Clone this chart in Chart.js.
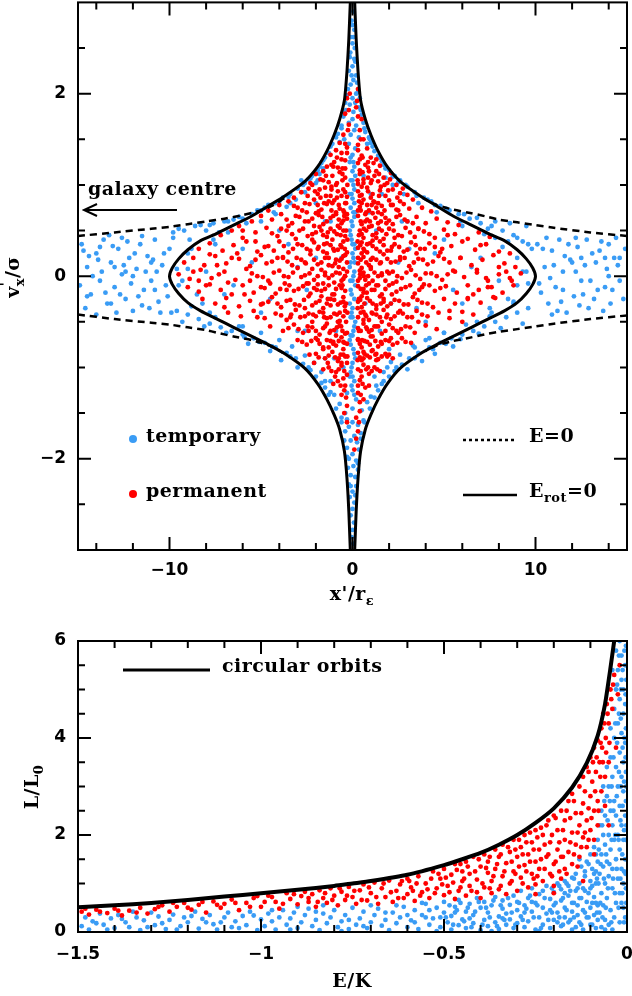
<!DOCTYPE html>
<html><head><meta charset="utf-8">
<script src="https://cdn.jsdelivr.net/npm/chart.js@4.4.1/dist/chart.umd.min.js"></script>
<style>html,body{margin:0;padding:0;background:#fff;}canvas{position:absolute;left:0;display:block;}</style>
</head><body>
<canvas id="top" width="632" height="610" style="top:0px"></canvas>
<canvas id="bot" width="632" height="386" style="top:610px"></canvas>
<script>
// ================= TOP PANEL DATA (x'/r_eps , v_x'/sigma) =================
const topXTicks = [-10, 0, 10];
const topXMinor = [-14,-12,-8,-6,-4,-2,2,4,6,8,12,14];
const topYTicks = [-2, 0, 2];
const topYMinor = [-2.5,-1.5,-1,-0.5,0.5,1,1.5,2.5];

const temporaryTop = [
[0.05,2.9],[-0.05,2.8],[0.1,2.7],[-0.1,2.62],[0,2.55],[0.12,2.5],[-0.12,2.45],[0,2.75],[0.05,2.62],
[-0.15,2.4],[0.15,2.35],[0,2.3],[-0.2,2.25],[0.2,2.2],[0.05,2.15],[-0.1,2.1],[0.25,2.12],[-0.25,2.05],[0.1,2.38],[-0.05,2.2],
[0.3,2.02],[-0.3,1.98],[0,1.95],[0.15,1.9],[-0.15,1.88],[0.35,1.85],[-0.35,1.82],[0.05,1.8],[-0.4,1.9],[0.4,1.95],[0.2,2.0],
[-0.5,1.75],[0.5,1.77],[0,1.72],[-0.2,1.68],[0.2,1.65],[0.6,1.68],[-0.6,1.62],[0.1,1.6],[-0.1,1.55],[0.7,1.58],[-0.8,1.56],[0.35,1.52],[-0.45,1.5],[0.9,1.52],
[-1.1,1.45],[1.0,1.46],[-0.2,1.45],[0.15,1.4],[1.2,1.37],[-1.3,1.35],[0,1.33],[-0.15,1.25],[0.1,1.2],[1.6,1.26],[-1.7,1.24],[1.8,1.18],[-1.9,1.16],[-1.5,1.3],[1.4,1.32],[0.8,1.45],[-0.7,1.47],
[0,1.15],[-0.1,1.05],[0.1,0.95],[0,0.85],[-0.1,0.75],[0.1,0.65],[0,0.55],[-0.1,0.45],[0.1,0.35],[0,0.25],[-0.1,0.15],[0.1,0.05],[0,-0.05],[-0.1,-0.15],[0.1,-0.25],[0,-0.35],[-0.1,-0.45],[0.1,-0.55],[0,-0.65],[-0.1,-0.75],[0.1,-0.85],[0,-0.95],[-0.1,-1.05],[0.1,-1.15],[0,-1.25],
[0.15,1.1],[-0.15,0.9],[0.15,0.7],[-0.15,0.5],[0.15,0.3],[-0.15,0.1],[0.15,-0.1],[-0.15,-0.3],[0.15,-0.5],[-0.15,-0.7],[0.15,-0.9],[-0.15,-1.1],[0.05,1.0],[-0.05,0.6],[0.05,0.2],[-0.05,-0.2],[0.05,-0.6],[-0.05,-1.0],
[-1.5,-1.22],[1.4,-1.25],[-1.0,-1.3],[1.0,-1.32],[-0.3,-1.28],[0.2,-1.35],[-0.7,-1.4],[0.8,-1.38],[0,-1.45],[-0.4,-1.5],[0.5,-1.47],[1.3,-1.2],[-1.2,-1.27],
[-0.6,-1.55],[0.6,-1.58],[0,-1.6],[-0.2,-1.65],[0.3,-1.63],[-0.4,-1.7],[0.45,-1.72],[0.1,-1.75],[-0.1,-1.8],[0.25,-1.82],[-0.3,-1.57],
[-0.3,-1.88],[0.35,-1.9],[0,-1.95],[-0.2,-2.0],[0.2,-2.02],[0.05,-2.08],[-0.25,-2.1],[0.3,-2.12],[-0.1,-2.18],[0.15,-2.2],
[-0.2,-2.28],[0.2,-2.3],[0,-2.36],[-0.15,-2.42],[0.1,-2.48],[0,-2.55],[-0.1,-2.62],[0.08,-2.7],[0,-2.78],[-0.05,-2.86],[0.05,-2.93],[0.15,-2.4],[-0.1,-2.3],
[-9.8,0.48],[-9.2,0.5],[-8.6,0.55],[-8.0,0.5],[-7.6,0.58],[-7.0,0.6],[-6.5,0.62],[-6.0,0.63],[-5.5,0.68],[-5.0,0.72],[-4.6,0.78],[-4.2,0.8],[-3.8,0.86],[-3.4,0.9],[-3.0,0.96],[-2.7,1.0],[-2.4,1.06],[-2.2,1.1],[-8.9,0.4],[-7.3,0.48],[-5.8,0.58],[-4.3,0.7],[-3.6,0.76],[-3.1,0.84],[-2.6,0.92],[-2.0,1.02],[-1.8,1.12],[-1.6,1.18],
[9.8,0.3],[9.3,0.38],[8.8,0.45],[8.2,0.5],[7.6,0.55],[7.0,0.58],[6.4,0.63],[5.8,0.68],[5.3,0.72],[4.8,0.77],[4.3,0.82],[3.9,0.86],[3.4,0.92],[3.0,0.98],[2.6,1.05],[2.3,1.1],[2.0,1.16],[8.5,0.38],[7.2,0.46],[5.9,0.6],[4.6,0.7],[3.6,0.8],[2.8,0.9],[2.2,1.0],[1.8,1.08],[7.4,0.52],[9.0,0.42],[9.6,0.35],
[-9.6,-0.38],[-9.0,-0.42],[-8.4,-0.47],[-7.8,-0.52],[-7.2,-0.56],[-6.6,-0.6],[-6.0,-0.64],[-5.4,-0.68],[-4.8,-0.73],[-4.2,-0.78],[-3.6,-0.84],[-3.1,-0.9],[-2.7,-0.96],[-2.3,-1.03],[-2.0,-1.1],[-8.8,-0.33],[-7.5,-0.45],[-6.2,-0.55],[-5.0,-0.62],[-4.0,-0.7],[-3.3,-0.77],[-2.6,-0.87],[-2.1,-0.95],[-1.7,-1.05],[-1.5,-1.15],[-5.7,-0.74],[-4.5,-0.82],[-3.9,-0.92],[-3.0,-1.0],
[9.6,-0.35],[9.0,-0.4],[8.4,-0.45],[7.8,-0.5],[7.2,-0.55],[6.6,-0.6],[6.0,-0.64],[5.4,-0.68],[4.8,-0.73],[4.2,-0.78],[3.6,-0.84],[3.1,-0.9],[2.7,-0.97],[2.3,-1.04],[2.0,-1.1],[8.8,-0.3],[7.5,-0.44],[6.2,-0.53],[5.0,-0.62],[4.0,-0.7],[3.3,-0.76],[2.6,-0.86],[2.1,-0.94],[1.7,-1.05],[1.6,-1.18],[4.5,-0.85],[3.8,-0.93],[3.0,-1.02],[5.5,-0.77],
[-8.0,0.05],[-7.0,-0.2],[-6.0,0.3],[-5.0,-0.4],[-4.0,0.5],[-3.0,-0.6],[-2.0,0.8],[-1.0,-0.9],[1.0,0.9],[2.0,-0.8],[3.0,0.6],[4.0,-0.5],[5.0,0.4],[6.0,-0.3],[7.0,0.2],[8.0,-0.05],[-9.0,0.25],[-8.5,-0.2],[9.0,0.2],[8.5,-0.25],[-7.5,0.35],[7.5,-0.35],[-6.5,-0.1],[6.5,0.1],[-5.5,0.15],[5.5,-0.15],[-4.5,-0.25],[4.5,0.25],[-3.5,0.35],[3.5,-0.35],[-2.5,-0.15],[2.5,0.15],[-1.5,0.6],[1.5,-0.6],[-9.5,-0.1],[9.5,0.05],[-2.8,1.05],[2.9,1.0],[-1.2,-1.15],[1.2,-1.1],
[-0.6,0.2],[0.7,-0.3],[-1.2,0.6],[1.3,0.5],[-0.9,-0.6],[0.9,0.7],[-2.0,0.2],[2.1,-0.3],[-1.5,-0.9],[1.6,0.9],[-3.0,0.1],[3.1,0.3],[-2.6,-0.6],[2.7,0.6],[-0.5,-1.0],[0.6,1.1],[-1.9,1.05],[1.9,-1.0],
[-14.8,0.35],[-14.5,0.1],[-14.3,-0.2],[-14.0,0.25],[-13.8,-0.05],[-13.6,0.4],[-13.4,-0.3],[-13.2,0.15],[-13.0,-0.12],[-12.8,0.3],[-12.6,0.02],[-12.4,-0.25],[-12.2,0.2],[-12.0,-0.38],[-11.8,0.08],[-11.6,0.35],[-11.4,-0.15],[-11.2,0.22],[-11.0,-0.05],[-10.8,0.4],[-10.6,-0.28],[-10.4,0.12],[-10.2,-0.1],[-10.0,0.3],[-14.9,-0.1],[-14.6,-0.35],[-14.2,0.0],[-13.9,0.18],[-13.5,-0.18],[-13.1,0.33],[-12.9,-0.4],[-12.5,0.12],[-12.1,-0.08],[-11.9,0.25],[-11.5,-0.32],[-11.3,0.05],[-10.9,0.18],[-10.5,-0.4],[-10.3,0.25],[-14.4,0.22],[-13.7,0.05],[-13.3,0.45],[-12.7,-0.2],[-12.3,0.38],[-11.7,-0.22],[-11.1,-0.35],[-10.7,0.05],[-14.7,0.28],[-13.0,0.1],[-12.0,0.0],[-11.0,0.15],[-10.1,-0.22],[-9.8,0.42],[-9.9,-0.4],
[14.9,0.3],[14.6,-0.05],[14.3,0.2],[14.1,-0.3],[13.9,0.08],[13.6,0.38],[13.4,-0.15],[13.1,0.25],[12.9,-0.35],[12.7,0.12],[12.5,-0.05],[12.3,0.32],[12.1,-0.22],[11.9,0.18],[11.7,-0.4],[11.5,0.05],[11.3,0.4],[11.1,-0.12],[10.9,0.28],[10.7,-0.3],[10.5,0.1],[10.3,-0.18],[10.1,0.35],[14.8,-0.25],[14.4,0.42],[14.0,0.0],[13.7,-0.38],[13.3,0.15],[12.8,0.4],[12.6,-0.2],[12.2,0.05],[11.8,0.35],[11.4,-0.28],[11.0,0.12],[10.6,0.42],[10.2,-0.08],[14.2,-0.15],[13.5,0.28],[12.4,-0.32],[11.6,0.22],[10.8,-0.02],[13.8,0.2],[12.0,0.15],[11.2,-0.38],[10.4,0.3],[13.0,-0.05],[14.5,0.12]
];
const temporaryTopExtra = [
[0.05,1.25],[-0.05,0.9],[0.05,0.7],[-0.05,0.4],[0.05,0.0],[-0.05,-0.4],[0.05,-0.8],[-0.05,-1.2],[0.1,-1.3],[-0.1,1.3],[0,1.05],[0,-1.1],[0,0.35],[0,-0.45],[0.1,0.8],[-0.1,-0.65],[0.12,0.15],[-0.12,-0.05],
[-1.2,1.42],[1.1,1.42],[-1.6,1.27],[1.5,1.3],[-1.8,1.2],[1.7,1.22],[-2.3,1.07],[2.2,1.09],[-2.6,1.02],[2.5,1.03],[-0.9,1.52],[0.95,1.5],[-0.6,1.65],[0.65,1.62],[-0.45,1.8],[0.45,1.82],
[-1.3,-1.3],[1.2,-1.33],[-1.7,-1.17],[1.7,-1.15],[-0.9,-1.45],[0.95,-1.45],[-0.6,-1.6],[0.65,-1.6],[-0.45,-1.8],[0.45,-1.78],[-2.4,-1.0],[2.4,-1.0],[-0.3,-1.98],[0.3,-2.05],
[-9.5,0.52],[-8.3,0.56],[-7.8,0.56],[-6.8,0.6],[-6.2,0.65],[-5.2,0.72],[-4.8,0.75],[-4.0,0.82],[-3.5,0.87],
[9.5,0.55],[8.6,0.58],[7.8,0.6],[6.8,0.64],[6.1,0.68],[5.1,0.74],[4.5,0.78],[4.1,0.84],[3.5,0.88],
[-9.3,-0.5],[-8.1,-0.55],[-6.9,-0.62],[-5.9,-0.67],[-5.1,-0.72],[-4.4,-0.77],[-3.4,-0.88],[9.3,-0.52],[8.1,-0.57],[6.9,-0.63],[5.9,-0.69],[5.1,-0.74],[4.4,-0.8],[3.4,-0.9],
[-9.6,0.08],[-9.3,-0.05],[-9.0,0.08],[-8.8,0.3],[-8.2,-0.3],[-7.6,0.4],[-7.8,-0.4],[9.6,-0.08],[9.3,0.05],[9.0,-0.1],[8.8,-0.28],[8.2,0.32],[7.6,-0.4],[7.8,0.42],[-6.8,0.48],[6.8,-0.5],[-6.0,-0.55],[6.0,0.55],[-5.0,0.6],[5.0,-0.62],[-4.2,0.68],[4.2,-0.68],[-3.4,0.8],[3.4,-0.78],
[-14.0,-0.42],[-13.2,-0.3],[-12.6,0.42],[-11.5,0.44],[-10.8,-0.15],[-12.4,0.05],[-13.8,0.32],[-14.5,-0.22],[14.0,0.35],[13.2,-0.25],[12.5,0.2],[11.5,-0.15],[10.9,-0.42],[12.2,0.42],[13.8,-0.12],[14.6,0.2]
];

const permanentTop = [
[0.3,2.05],[-0.3,1.95],[0.2,1.85],[-0.4,1.78],[0.5,1.72],[-0.2,1.66],[0.4,1.6],[-0.5,1.55],[0.6,1.5],[-0.7,1.46],[0.3,1.44],[-0.3,1.41],[0.8,1.4],[-0.9,1.38],
[-1.2,1.33],[-0.6,1.35],[0.5,1.32],[1.0,1.3],[1.3,1.28],[-1.0,1.25],[-0.4,1.27],[0.3,1.24],[0.7,1.22],[-1.4,1.2],[1.5,1.21],[-0.8,1.19],
[-2.0,1.12],[-1.6,1.15],[-1.1,1.1],[-0.7,1.14],[-0.4,1.08],[0.4,1.12],[0.6,1.06],[0.9,1.15],[1.2,1.1],[1.7,1.08],[2.1,1.13],[-1.3,1.03],[-0.9,1.0],[0.3,1.01],[1.0,1.02],[1.4,1.04],[-2.3,1.02],[2.4,1.0],
[-2.8,0.92],[-2.4,0.96],[-1.9,0.9],[-1.5,0.97],[-1.2,0.88],[-0.8,0.93],[-0.5,0.95],[-0.3,0.87],[0.3,0.93],[0.5,0.89],[0.8,0.97],[1.1,0.9],[1.5,0.94],[1.8,0.88],[2.2,0.95],[2.6,0.91],[3.0,0.89],[-3.2,0.86],
[-4.0,0.78],[-3.5,0.82],[-3.0,0.75],[-2.6,0.8],[-2.1,0.84],[-1.7,0.73],[-1.4,0.79],[-1.0,0.83],[-0.7,0.74],[-0.4,0.8],[0.4,0.76],[0.6,0.84],[0.9,0.72],[1.2,0.81],[1.6,0.77],[2.0,0.83],[2.4,0.73],[2.8,0.79],[3.3,0.84],[3.8,0.75],[4.3,0.71],[-4.6,0.72],
[-5.5,0.6],[-5.0,0.66],[-4.4,0.62],[-3.9,0.68],[-3.3,0.58],[-2.9,0.65],[-2.4,0.6],[-2.0,0.69],[-1.6,0.57],[-1.2,0.64],[-0.9,0.68],[-0.6,0.58],[-0.3,0.63],[0.3,0.66],[0.5,0.57],[0.8,0.62],[1.1,0.69],[1.4,0.58],[1.8,0.64],[2.2,0.57],[2.6,0.67],[3.0,0.6],[3.5,0.65],[4.0,0.58],[4.6,0.63],[5.2,0.59],[5.8,0.56],[-6.2,0.55],
[-7.2,0.45],[-6.6,0.5],[-6.0,0.42],[-5.3,0.48],[-4.7,0.53],[-4.1,0.44],[-3.6,0.5],[-3.1,0.41],[-2.7,0.52],[-2.2,0.46],[-1.8,0.54],[-1.4,0.43],[-1.0,0.49],[-0.7,0.53],[-0.4,0.44],[0.4,0.5],[0.6,0.42],[0.9,0.54],[1.3,0.47],[1.7,0.41],[2.0,0.52],[2.5,0.45],[2.9,0.53],[3.4,0.43],[3.9,0.49],[4.5,0.42],[5.0,0.51],[5.6,0.46],[6.3,0.41],[6.9,0.48],[7.5,0.43],
[-8.4,0.3],[-7.8,0.36],[-7.1,0.28],[-6.5,0.34],[-5.8,0.38],[-5.2,0.27],[-4.6,0.33],[-4.0,0.38],[-3.5,0.26],[-3.0,0.35],[-2.5,0.3],[-2.1,0.37],[-1.6,0.27],[-1.2,0.34],[-0.8,0.29],[-0.5,0.38],[-0.3,0.26],[0.3,0.31],[0.5,0.37],[0.8,0.26],[1.1,0.33],[1.5,0.38],[1.9,0.28],[2.3,0.35],[2.8,0.27],[3.2,0.37],[3.7,0.3],[4.2,0.36],[4.8,0.26],[5.4,0.33],[6.0,0.38],[6.7,0.29],[7.3,0.35],[8.0,0.27],[8.6,0.25],
[-9.2,0.15],[-8.7,0.2],[-8.1,0.12],[-7.5,0.22],[-6.9,0.14],[-6.2,0.19],[-5.6,0.11],[-5.0,0.23],[-4.4,0.16],[-3.8,0.21],[-3.3,0.12],[-2.8,0.18],[-2.3,0.24],[-1.9,0.13],[-1.5,0.2],[-1.1,0.11],[-0.7,0.17],[-0.4,0.23],[0.3,0.14],[0.6,0.21],[0.9,0.12],[1.3,0.18],[1.7,0.24],[2.1,0.15],[2.6,0.21],[3.1,0.11],[3.6,0.19],[4.1,0.13],[4.7,0.22],[5.3,0.15],[5.9,0.2],[6.5,0.12],[7.1,0.18],[7.7,0.23],[8.3,0.14],[8.9,0.1],
[-9.5,0.02],[-8.9,-0.03],[-8.3,0.07],[-7.7,-0.02],[-7.0,0.05],[-6.4,-0.04],[-5.8,0.08],[-5.2,0.0],[-4.6,-0.05],[-4.0,0.06],[-3.5,-0.01],[-3.0,0.09],[-2.6,0.01],[-2.1,-0.04],[-1.7,0.07],[-1.3,-0.02],[-0.9,0.04],[-0.5,-0.03],[0.4,0.06],[0.7,-0.04],[1.0,0.08],[1.4,0.0],[1.8,-0.05],[2.2,0.05],[2.7,-0.02],[3.2,0.07],[3.7,-0.03],[4.3,0.03],[4.9,-0.04],[5.5,0.06],[6.1,-0.01],[6.8,0.04],[7.4,-0.05],[8.0,0.02],[8.6,-0.02],[9.2,0.03],
[-9.0,-0.12],[-8.4,-0.17],[-7.8,-0.09],[-7.2,-0.15],[-6.6,-0.2],[-6.0,-0.1],[-5.4,-0.18],[-4.8,-0.13],[-4.2,-0.19],[-3.7,-0.08],[-3.2,-0.16],[-2.7,-0.11],[-2.3,-0.19],[-1.9,-0.09],[-1.5,-0.14],[-1.1,-0.2],[-0.7,-0.1],[-0.4,-0.16],[0.3,-0.11],[0.6,-0.18],[0.9,-0.08],[1.2,-0.15],[1.6,-0.2],[2.0,-0.1],[2.4,-0.17],[2.9,-0.12],[3.4,-0.19],[3.9,-0.09],[4.5,-0.16],[5.1,-0.11],[5.7,-0.18],[6.3,-0.1],[6.9,-0.15],[7.6,-0.12],[8.2,-0.18],[8.8,-0.1],
[-8.2,-0.25],[-7.5,-0.3],[-6.9,-0.24],[-6.2,-0.33],[-5.6,-0.27],[-5.0,-0.31],[-4.4,-0.23],[-3.9,-0.34],[-3.4,-0.26],[-2.9,-0.32],[-2.4,-0.22],[-2.0,-0.29],[-1.6,-0.35],[-1.2,-0.25],[-0.8,-0.31],[-0.5,-0.23],[0.3,-0.28],[0.5,-0.34],[0.8,-0.24],[1.1,-0.3],[1.5,-0.22],[1.9,-0.33],[2.3,-0.26],[2.8,-0.31],[3.3,-0.23],[3.8,-0.29],[4.4,-0.34],[5.0,-0.25],[5.6,-0.3],[6.3,-0.24],[7.0,-0.29],[7.7,-0.23],
[-6.8,-0.4],[-6.1,-0.44],[-5.4,-0.38],[-4.8,-0.46],[-4.2,-0.41],[-3.6,-0.48],[-3.1,-0.37],[-2.6,-0.44],[-2.2,-0.5],[-1.8,-0.39],[-1.4,-0.46],[-1.0,-0.41],[-0.7,-0.49],[-0.4,-0.38],[0.3,-0.45],[0.6,-0.39],[0.9,-0.48],[1.3,-0.42],[1.7,-0.37],[2.1,-0.47],[2.5,-0.4],[3.0,-0.45],[3.5,-0.38],[4.1,-0.44],[4.7,-0.4],[5.3,-0.46],[6.0,-0.39],[6.6,-0.42],
[-4.5,-0.55],[-3.8,-0.6],[-3.2,-0.53],[-2.7,-0.62],[-2.2,-0.56],[-1.8,-0.64],[-1.4,-0.52],[-1.0,-0.59],[-0.7,-0.54],[-0.4,-0.63],[0.3,-0.57],[0.6,-0.52],[0.9,-0.61],[1.2,-0.55],[1.6,-0.63],[2.0,-0.53],[2.4,-0.6],[2.9,-0.55],[3.4,-0.62],[4.0,-0.54],[4.6,-0.58],
[-3.0,-0.7],[-2.5,-0.75],[-2.0,-0.68],[-1.6,-0.78],[-1.2,-0.71],[-0.9,-0.76],[-0.6,-0.67],[-0.3,-0.74],[0.3,-0.69],[0.5,-0.78],[0.8,-0.72],[1.1,-0.66],[1.4,-0.77],[1.8,-0.7],[2.2,-0.75],[2.7,-0.68],[3.2,-0.73],
[-2.0,-0.85],[-1.5,-0.9],[-1.1,-0.83],[-0.8,-0.93],[-0.5,-0.86],[-0.3,-0.95],[0.3,-0.84],[0.5,-0.92],[0.8,-0.87],[1.1,-0.81],[1.4,-0.91],[1.8,-0.85],[2.2,-0.9],
[-1.3,-1.0],[-0.9,-1.05],[-0.6,-0.98],[-0.3,-1.08],[0.3,-1.02],[0.6,-0.97],[0.9,-1.07],[1.2,-1.0],[1.5,-1.04],
[-0.8,-1.15],[-0.4,-1.2],[0.4,-1.14],[0.7,-1.22],[-0.6,-1.3],[0.3,-1.28],[0.6,-1.35],[-0.3,-1.42],[0.4,-1.48],[0.2,-1.55],[-0.3,-1.6],[0.3,-1.7],[0.2,-1.78],[0.1,-1.9],
[-1.8,0.95],[-1.3,0.82],[-0.9,0.7],[-0.5,0.61],[-1.7,0.5],[-1.1,0.4],[-0.6,0.32],[-1.4,0.25],[-0.9,0.18],[-0.5,0.08],[-1.5,0.01],[-1.0,-0.07],[-0.6,-0.13],[-1.7,-0.22],[-1.2,-0.32],[-0.7,-0.4],[-1.5,-0.55],[-0.9,-0.65],[-0.5,-0.8],[-1.3,-0.78],
[0.5,0.98],[1.0,0.86],[1.4,0.7],[0.7,0.6],[1.6,0.5],[1.1,0.39],[0.6,0.3],[1.5,0.27],[1.0,0.18],[0.5,0.09],[1.6,0.03],[1.1,-0.05],[0.6,-0.14],[1.7,-0.25],[1.3,-0.36],[0.7,-0.42],[1.6,-0.5],[1.0,-0.66],[0.6,-0.83],[1.3,-0.85],
[-2.5,0.7],[-2.2,0.4],[-2.6,0.15],[-2.4,-0.08],[-2.6,-0.35],[-2.4,-0.6],[2.5,0.72],[2.3,0.42],[2.6,0.18],[2.4,-0.06],[2.6,-0.38],[2.5,-0.62],
[-3.5,0.55],[-3.8,0.2],[-3.6,-0.15],[-3.4,-0.45],[3.6,0.52],[3.5,0.25],[3.8,-0.12],[3.6,-0.5],
[-0.4,1.18],[0.4,1.16],[-0.5,-1.12],[0.5,-1.1],[-0.35,0.5],[0.35,0.45],[-0.35,-0.5],[0.35,-0.6],[-0.4,0.0],[0.4,-0.02],[-0.35,0.8],[0.35,0.82],[-0.35,-0.3],[0.35,-0.25],[-0.3,0.15],[0.3,0.2],
[-2.2,1.0],[-1.9,0.78],[-2.1,0.55],[-1.9,0.3],[-2.2,0.08],[-1.95,-0.15],[-2.15,-0.42],[-1.9,-0.7],[-2.1,-0.95],
[-1.6,1.05],[-1.45,0.88],[-1.65,0.65],[-1.35,0.48],[-1.55,0.35],[-1.3,0.12],[-1.6,-0.08],[-1.35,-0.25],[-1.55,-0.45],[-1.25,-0.62],[-1.6,-0.8],[-1.35,-0.95],
[-1.05,1.2],[-0.85,1.02],[-1.1,0.8],[-0.8,0.55],[-1.05,0.3],[-0.75,0.1],[-1.0,-0.2],[-0.8,-0.5],[-1.05,-0.72],[-0.75,-0.9],[-0.95,-1.1],
[-0.6,1.28],[-0.55,1.05],[-0.6,0.88],[-0.5,0.72],[-0.65,0.45],[-0.5,0.22],[-0.6,-0.05],[-0.5,-0.28],[-0.62,-0.55],[-0.5,-0.72],[-0.6,-0.95],[-0.45,-1.25],
[-0.3,1.35],[-0.28,1.0],[-0.3,0.68],[-0.28,0.4],[-0.3,0.05],[-0.28,-0.4],[-0.3,-0.62],[-0.28,-0.88],
[0.3,1.38],[0.28,1.05],[0.3,0.72],[0.28,0.38],[0.3,-0.05],[0.28,-0.35],[0.3,-0.7],[0.28,-0.92],[0.3,-1.2],
[0.55,1.3],[0.6,1.02],[0.5,0.8],[0.62,0.52],[0.5,0.25],[0.62,0.0],[0.5,-0.22],[0.6,-0.48],[0.52,-0.7],[0.6,-0.9],[0.45,-1.3],
[0.85,1.25],[1.05,1.05],[0.8,0.78],[1.05,0.55],[0.8,0.35],[1.0,0.1],[0.78,-0.18],[1.05,-0.4],[0.8,-0.58],[1.05,-0.82],[0.85,-1.0],
[1.3,1.15],[1.55,0.98],[1.3,0.75],[1.55,0.6],[1.3,0.42],[1.55,0.15],[1.3,-0.1],[1.55,-0.3],[1.3,-0.55],[1.55,-0.72],[1.3,-0.92],
[1.9,1.02],[2.1,0.78],[1.85,0.58],[2.15,0.32],[1.9,0.05],[2.15,-0.2],[1.85,-0.45],[2.1,-0.68],[1.9,-0.88]
];
const permanentTopExtra = [
[-1.15,1.22],[-0.85,1.3],[-0.55,1.18],[0.4,1.28],[0.85,1.19],[1.15,1.24],
[-1.75,1.06],[-1.45,1.1],[-1.15,0.98],[-0.55,1.12],[0.55,1.14],[0.85,1.08],[1.45,1.12],[1.75,1.0],[2.05,1.06],
[-2.45,0.88],[-2.05,0.93],[-1.75,0.86],[-1.15,0.95],[-0.85,0.86],[-0.4,0.92],[0.4,0.88],[0.85,0.93],[1.15,0.82],[1.45,0.88],[1.95,0.94],[2.45,0.86],[2.75,0.96],
[-3.2,0.77],[-2.75,0.72],[-2.35,0.79],[-1.85,0.71],[-1.55,0.8],[-1.15,0.72],[-0.75,0.78],[-0.45,0.7],[0.45,0.72],[0.75,0.7],[1.05,0.78],[1.4,0.8],[1.75,0.72],[2.2,0.78],[2.6,0.82],[3.1,0.74],
[-3.6,0.62],[-3.1,0.66],[-2.6,0.6],[-2.2,0.63],[-1.85,0.67],[-1.4,0.6],[-1.05,0.66],[-0.75,0.62],[-0.45,0.66],[0.45,0.6],[0.7,0.68],[0.95,0.6],[1.25,0.64],[1.6,0.68],[2.0,0.61],[2.4,0.65],[2.85,0.62],[3.3,0.58],
[-4.4,0.47],[-3.9,0.52],[-3.3,0.46],[-2.9,0.5],[-2.45,0.44],[-2.0,0.48],[-1.6,0.45],[-1.2,0.52],[-0.85,0.46],[-0.5,0.5],[0.5,0.46],[0.75,0.5],[1.1,0.45],[1.45,0.52],[1.85,0.46],[2.25,0.5],[2.7,0.44],[3.15,0.48],[3.6,0.52],[4.2,0.46],
[-4.8,0.32],[-4.3,0.28],[-3.75,0.33],[-3.25,0.3],[-2.75,0.34],[-2.3,0.28],[-1.85,0.32],[-1.4,0.36],[-1.0,0.28],[-0.65,0.34],[-0.42,0.3],[0.42,0.34],[0.65,0.28],[0.95,0.36],[1.3,0.3],[1.7,0.34],[2.1,0.28],[2.55,0.32],[3.0,0.29],[3.45,0.34],[3.95,0.3],[4.5,0.32],
[-5.3,0.18],[-4.7,0.14],[-4.1,0.2],[-3.55,0.16],[-3.05,0.2],[-2.55,0.14],[-2.1,0.18],[-1.7,0.15],[-1.3,0.2],[-0.95,0.14],[-0.6,0.19],[0.45,0.18],[0.75,0.15],[1.1,0.2],[1.5,0.14],[1.9,0.19],[2.35,0.16],[2.85,0.2],[3.35,0.15],[3.85,0.18],[4.4,0.16],[5.0,0.19],
[-5.5,0.03],[-4.9,-0.01],[-4.3,0.04],[-3.75,0.0],[-3.25,0.04],[-2.8,-0.01],[-2.35,0.03],[-1.9,0.0],[-1.5,0.04],[-1.1,0.01],[-0.7,0.03],[-0.42,0.0],[0.42,0.02],[0.6,0.04],[0.85,0.0],[1.2,0.04],[1.6,0.01],[2.0,0.03],[2.45,0.0],[2.95,0.04],[3.45,0.01],[4.0,0.03],[4.6,0.0],[5.2,0.02],
[-5.0,-0.12],[-4.5,-0.08],[-3.95,-0.14],[-3.45,-0.1],[-2.95,-0.14],[-2.5,-0.08],[-2.1,-0.13],[-1.7,-0.16],[-1.3,-0.1],[-0.9,-0.14],[-0.55,-0.1],[0.45,-0.14],[0.75,-0.1],[1.05,-0.15],[1.4,-0.1],[1.8,-0.14],[2.2,-0.08],[2.65,-0.14],[3.15,-0.1],[3.65,-0.15],[4.2,-0.1],[4.8,-0.13],
[-4.6,-0.28],[-4.1,-0.3],[-3.6,-0.27],[-3.15,-0.31],[-2.65,-0.26],[-2.2,-0.32],[-1.8,-0.27],[-1.4,-0.3],[-1.0,-0.26],[-0.65,-0.29],[-0.42,-0.33],[0.42,-0.26],[0.65,-0.3],[0.95,-0.27],[1.3,-0.32],[1.7,-0.28],[2.1,-0.3],[2.55,-0.27],[3.05,-0.31],[3.55,-0.26],[4.1,-0.3],
[-3.9,-0.43],[-3.35,-0.42],[-2.85,-0.45],[-2.4,-0.41],[-2.0,-0.44],[-1.6,-0.4],[-1.2,-0.45],[-0.85,-0.42],[-0.5,-0.44],[0.45,-0.4],[0.75,-0.44],[1.1,-0.41],[1.5,-0.45],[1.9,-0.42],[2.3,-0.44],[2.75,-0.41],[3.25,-0.45],[3.8,-0.42],
[-3.5,-0.57],[-2.95,-0.58],[-2.45,-0.55],[-2.0,-0.6],[-1.6,-0.57],[-1.2,-0.6],[-0.85,-0.56],[-0.55,-0.6],[0.45,-0.6],[0.75,-0.56],[1.05,-0.59],[1.4,-0.55],[1.8,-0.6],[2.2,-0.57],[2.65,-0.58],[3.15,-0.56],
[-2.75,-0.72],[-2.25,-0.71],[-1.8,-0.74],[-1.4,-0.7],[-1.05,-0.74],[-0.75,-0.71],[-0.45,-0.73],[0.4,-0.74],[0.65,-0.71],[0.95,-0.75],[1.25,-0.71],[1.6,-0.74],[2.0,-0.71],[2.45,-0.73],[2.9,-0.72],
[-2.35,-0.86],[-1.85,-0.89],[-1.3,-0.87],[-0.95,-0.89],[-0.65,-0.86],[-0.4,-0.88],[0.4,-0.89],[0.65,-0.85],[0.95,-0.89],[1.25,-0.86],[1.6,-0.88],[2.0,-0.86],
[-1.6,-1.02],[-1.15,-1.04],[-0.75,-1.02],[-0.45,-1.04],[0.45,-1.04],[0.75,-1.02],[1.05,-1.04],[1.35,-1.02],
[-1.05,-1.18],[-0.65,-1.2],[0.55,-1.18],[0.9,-1.2],[-0.35,-1.33],[0.4,-1.38],[-0.45,-1.5],[0.35,-1.6],
[-0.4,1.45],[0.45,1.5],[-0.25,1.6],[0.3,1.75],[-0.2,1.82],[0.25,1.92],[-0.15,2.0],
[-8.7,0.05],[-8.0,-0.1],[-7.4,0.12],[-6.8,-0.07],[-6.3,0.25],[-5.9,-0.2],[-5.3,0.38],[-4.9,-0.3],[-7.8,0.24],[-7.0,-0.34],[-6.0,0.5],[-5.2,-0.45],[-8.4,-0.05],[-7.3,0.02],[-6.6,0.2],[-5.6,-0.05],
[8.7,-0.05],[8.0,0.1],[7.4,-0.12],[6.8,0.07],[6.3,-0.25],[5.9,0.2],[5.3,-0.38],[4.9,0.3],[7.8,-0.24],[7.0,0.34],[6.0,-0.5],[5.2,0.45],[8.4,0.05],[7.3,-0.02],[6.6,-0.2],[5.6,0.05]
];

// E_rot = 0 (solid) boundary, left and right lobes
const eRotLeft = [[-0.12,3.0],[-0.2,2.6],[-0.3,2.25],[-0.44,1.93],[-0.7,1.72],[-1.0,1.55],[-1.4,1.37],[-1.9,1.2],[-2.6,1.04],[-3.7,0.88],[-4.6,0.77],[-5.5,0.66],[-6.5,0.56],[-7.4,0.47],[-8.3,0.39],[-9.0,0.29],[-9.5,0.19],[-9.85,0.09],[-10.0,0.0],[-9.85,-0.09],[-9.5,-0.19],[-9.0,-0.29],[-8.3,-0.38],[-7.4,-0.47],[-6.5,-0.56],[-5.5,-0.66],[-4.6,-0.75],[-3.7,-0.85],[-2.6,-1.01],[-1.9,-1.18],[-1.4,-1.35],[-1.0,-1.52],[-0.7,-1.68],[-0.44,-1.92],[-0.3,-2.22],[-0.2,-2.58],[-0.12,-3.0]];
const eRotRight = [[0.12,3.0],[0.2,2.6],[0.3,2.25],[0.44,1.93],[0.7,1.72],[1.0,1.55],[1.4,1.37],[1.9,1.2],[2.6,1.04],[3.7,0.88],[4.6,0.77],[5.5,0.66],[6.5,0.56],[7.4,0.47],[8.3,0.39],[9.0,0.29],[9.5,0.19],[9.85,0.09],[10.0,0.0],[9.85,-0.09],[9.5,-0.19],[9.0,-0.29],[8.3,-0.38],[7.4,-0.47],[6.5,-0.56],[5.5,-0.66],[4.6,-0.75],[3.7,-0.85],[2.6,-1.01],[1.9,-1.18],[1.4,-1.35],[1.0,-1.52],[0.7,-1.68],[0.44,-1.92],[0.3,-2.22],[0.2,-2.58],[0.12,-3.0]];
// E = 0 (dashed) curves
const eZeroUL = [[-15,0.44],[-13,0.48],[-11,0.52],[-10,0.54],[-9,0.57],[-8,0.6],[-7,0.63],[-6,0.67],[-5,0.72],[-4.3,0.78],[-3.7,0.86]];
const eZeroUR = [[15,0.44],[13,0.48],[11,0.53],[10,0.56],[9,0.59],[8,0.62],[7.4,0.65],[6.5,0.69],[5.5,0.73],[4.6,0.78],[3.9,0.85]];
const eZeroLL = [[-15,-0.42],[-13,-0.47],[-11,-0.51],[-10,-0.53],[-9,-0.56],[-8,-0.59],[-7.4,-0.62],[-6.5,-0.66],[-5.5,-0.7],[-5,-0.73],[-4.3,-0.78],[-3.8,-0.84]];
const eZeroLR = [[15,-0.43],[13,-0.47],[11,-0.52],[10,-0.55],[9,-0.58],[8,-0.61],[7.4,-0.63],[6.5,-0.67],[5.5,-0.71],[4.6,-0.76],[4.0,-0.82]];

// ================= BOTTOM PANEL DATA (E/K , L/L0) =================
const botXTicks = [-1.5, -1, -0.5, 0];
const botXMinor = [-1.4,-1.3,-1.2,-1.1,-0.9,-0.8,-0.7,-0.6,-0.4,-0.3,-0.2,-0.1];
const botYTicks = [0, 2, 4, 6];
const botYMinor = [0.5,1,1.5,2.5,3,3.5,4.5,5,5.5];

const circularOrbits = [[-1.5,0.51],[-1.4,0.55],[-1.3,0.6],[-1.2,0.66],[-1.1,0.73],[-1.0,0.8],[-0.9,0.87],[-0.8,0.95],[-0.75,1.0],[-0.7,1.05],[-0.6,1.18],[-0.5,1.38],[-0.45,1.5],[-0.4,1.63],[-0.35,1.8],[-0.3,2.0],[-0.25,2.25],[-0.2,2.55],[-0.15,2.98],[-0.11,3.48],[-0.08,4.05],[-0.06,4.7],[-0.046,5.4],[-0.035,6.0]];

const permanentBot = [
[-1.49,0.42],[-1.47,0.36],[-1.45,0.46],[-1.42,0.39],[-1.4,0.48],[-1.38,0.34],[-1.36,0.44],[-1.33,0.5],[-1.31,0.38],[-1.29,0.47],[-1.27,0.55],
[-1.25,0.42],[-1.23,0.52],[-1.21,0.6],[-1.19,0.46],[-1.17,0.56],[-1.15,0.4],[-1.13,0.63],[-1.11,0.5],[-1.1,0.58],[-1.08,0.67],
[-1.06,0.45],[-1.04,0.6],[-1.02,0.7],[-1.0,0.52],[-0.98,0.75],[-0.96,0.62],[-0.95,0.48],[-0.93,0.8],[-0.92,0.68],[-0.9,0.57],[-0.89,0.74],[-0.88,0.83],
[-0.87,0.62],[-0.86,0.78],[-0.85,0.52],[-0.84,0.86],[-0.83,0.7],[-0.82,0.6],[-0.81,0.9],[-0.8,0.75],[-0.79,0.55],[-0.78,0.83],[-0.77,0.66],[-0.76,0.93],[-0.75,0.72],[-0.74,0.58],[-0.73,0.86],
[-0.72,0.98],[-0.71,0.65],[-0.7,0.8],[-0.69,1.02],[-0.68,0.58],[-0.67,0.9],[-0.66,0.72],[-0.65,1.06],[-0.64,0.62],[-0.63,0.85],[-0.62,0.98],[-0.61,0.7],[-0.6,1.1],[-0.6,0.78],[-0.59,0.92],[-0.58,0.64],
[-0.57,1.15],[-0.56,0.82],[-0.55,1.0],[-0.54,0.7],[-0.53,1.25],[-0.52,0.9],[-0.51,1.1],[-0.5,0.76],[-0.5,1.3],[-0.49,0.95],[-0.48,1.18],[-0.47,0.68],[-0.47,1.4],[-0.46,0.85],[-0.45,1.05],[-0.45,1.25],
[-0.44,0.75],[-0.44,1.45],[-0.43,0.95],[-0.43,1.2],[-0.42,1.55],[-0.41,0.82],[-0.41,1.08],[-0.4,1.35],[-0.4,0.7],[-0.39,1.6],[-0.39,0.92],[-0.38,1.22],[-0.38,1.45],[-0.37,0.8],[-0.37,1.05],[-0.36,1.7],[-0.36,1.3],[-0.35,0.88],[-0.35,1.55],
[-0.34,1.15],[-0.34,1.8],[-0.33,0.78],[-0.33,1.42],[-0.32,1.0],[-0.32,1.65],[-0.31,1.25],[-0.31,1.9],[-0.3,0.85],[-0.3,1.55],[-0.29,1.12],[-0.29,1.75],[-0.28,1.38],[-0.28,2.0],[-0.27,0.92],[-0.27,1.6],[-0.26,1.2],[-0.26,1.85],[-0.25,1.45],[-0.25,2.1],[-0.25,0.98],
[-0.24,1.7],[-0.24,1.3],[-0.23,2.0],[-0.23,1.05],[-0.22,1.55],[-0.22,2.2],[-0.21,1.85],[-0.21,1.2],[-0.2,2.4],[-0.2,1.4],[-0.2,0.95],[-0.19,1.7],[-0.19,2.1],[-0.18,1.1],[-0.18,2.5],[-0.18,1.55],
[-0.17,1.9],[-0.17,2.3],[-0.17,1.3],[-0.16,2.7],[-0.16,1.65],[-0.15,2.05],[-0.15,2.85],[-0.15,1.4],[-0.14,2.45],[-0.14,1.8],[-0.13,3.0],[-0.13,2.2],[-0.13,1.55],[-0.12,2.65],[-0.12,1.95],[-0.12,3.2],
[-0.11,2.3],[-0.11,3.4],[-0.11,1.75],[-0.1,2.8],[-0.1,3.6],[-0.1,2.1],[-0.095,3.1],[-0.09,2.5],[-0.09,3.8],[-0.09,1.9],[-0.085,3.3],[-0.08,2.7],[-0.08,3.95],[-0.08,2.2],
[-0.075,3.5],[-0.07,4.2],[-0.07,2.9],[-0.068,3.8],[-0.065,4.5],[-0.06,3.2],[-0.058,4.0],[-0.055,4.7],[-0.05,3.5],[-0.05,4.3],[-0.045,5.0],[-0.04,4.6],[-0.035,5.3],[-0.03,3.8],[-0.025,4.9],[-0.02,5.5],
[-0.12,1.05],[-0.25,0.78],[-0.09,1.6],[-0.06,2.6],[-0.05,2.2],[-0.2,0.8]
];
const permanentBotExtra = [
[-0.595,1.05],[-0.585,0.85],[-0.575,1.0],[-0.565,0.75],[-0.545,0.88],[-0.535,1.1],[-0.525,0.8],[-0.515,1.2],[-0.505,0.98],[-0.495,1.12],[-0.485,0.82],[-0.475,1.02],[-0.465,1.28],[-0.455,0.92],[-0.455,1.4],
[-0.445,1.1],[-0.435,1.35],[-0.425,0.85],[-0.415,1.25],[-0.405,1.5],[-0.395,1.0],[-0.385,1.32],[-0.375,0.9],[-0.375,1.55],[-0.365,1.15],[-0.355,1.4],[-0.345,0.95],[-0.345,1.6],[-0.335,1.25],[-0.325,1.75],[-0.315,1.05],[-0.315,1.45],[-0.305,1.7],[-0.305,1.2],
[-0.295,1.35],[-0.295,1.9],[-0.285,1.0],[-0.285,1.6],[-0.275,1.25],[-0.275,1.85],[-0.265,1.45],[-0.265,2.05],[-0.255,1.1],[-0.255,1.7],[-0.245,1.95],[-0.245,1.15],[-0.235,1.5],[-0.235,2.15],[-0.225,1.8],[-0.225,1.3],[-0.215,1.6],[-0.215,2.3],[-0.205,2.0],[-0.205,1.15],[-0.195,1.45],[-0.195,2.35],[-0.185,1.85],[-0.185,1.25],
[-0.175,2.1],[-0.175,1.55],[-0.165,2.5],[-0.165,1.2],[-0.155,1.85],[-0.155,2.35],[-0.145,1.6],[-0.145,2.7],[-0.135,2.05],[-0.135,1.35],[-0.125,2.45],[-0.125,1.75],[-0.115,2.9],[-0.115,2.05],[-0.105,2.55],[-0.105,3.3],[-0.105,1.9],
[-0.097,2.35],[-0.093,3.5],[-0.087,2.9],[-0.083,3.6],[-0.078,2.5],[-0.073,3.2],[-0.072,3.9],[-0.066,3.5],[-0.062,4.3],[-0.057,3.7],[-0.053,4.5],[-0.048,3.9],[-0.043,4.8],[-0.038,5.1],
[-0.99,0.62],[-0.97,0.72],[-0.94,0.58],[-0.91,0.78],[-0.87,0.7],[-0.845,0.62],[-0.825,0.8],[-0.805,0.66],[-0.785,0.9],[-0.765,0.75],[-0.745,0.85],[-0.725,0.66],[-0.705,0.92],[-0.685,0.72],[-0.665,1.0],[-0.645,0.82],[-0.625,0.7],[-0.615,1.05],
[-1.48,0.48],[-1.44,0.42],[-1.39,0.44],[-1.34,0.4],[-1.28,0.52],[-1.24,0.6],[-1.2,0.5],[-1.16,0.62],[-1.12,0.56],[-1.07,0.6],[-1.03,0.52],[-1.01,0.74]
];

const temporaryBot = [
[-1.49,0.12],[-1.48,0.3],[-1.47,0.05],[-1.46,0.22],[-1.44,0.38],[-1.43,0.15],[-1.41,0.28],[-1.4,0.08],[-1.39,0.35],[-1.37,0.2],[-1.36,0.1],[-1.34,0.3],[-1.33,0.04],[-1.32,0.24],[-1.3,0.4],[-1.29,0.14],[-1.28,0.32],[-1.26,0.06],[-1.25,0.25],[-1.24,0.36],[-1.22,0.12],[-1.21,0.3],[-1.2,0.2],[-1.18,0.42],[-1.17,0.07],[-1.16,0.27],[-1.14,0.35],[-1.13,0.16],[-1.12,0.05],[-1.1,0.3],[-1.09,0.4],[-1.08,0.1],[-1.07,0.22],[-1.05,0.33],[-1.04,0.14],[-1.03,0.42],[-1.01,0.04],[-1.0,0.26],[-1.45,0.18],[-1.35,0.42],[-1.27,0.18],[-1.19,0.33],[-1.11,0.2],[-1.02,0.34],
[-0.99,0.12],[-0.98,0.38],[-0.97,0.22],[-0.96,0.05],[-0.95,0.3],[-0.94,0.45],[-0.93,0.15],[-0.92,0.28],[-0.91,0.4],[-0.9,0.08],[-0.89,0.2],[-0.88,0.35],[-0.87,0.48],[-0.86,0.12],[-0.85,0.25],[-0.84,0.04],[-0.83,0.38],[-0.82,0.18],[-0.81,0.3],[-0.8,0.45],[-0.79,0.1],[-0.78,0.22],[-0.77,0.35],[-0.76,0.06],[-0.75,0.5],[-0.74,0.15],[-0.73,0.28],[-0.72,0.42],[-0.71,0.08],[-0.7,0.2],[-0.69,0.35],[-0.68,0.48],[-0.67,0.13],[-0.66,0.25],[-0.65,0.04],[-0.64,0.4],[-0.63,0.18],[-0.62,0.3],[-0.61,0.52],[-0.6,0.1],[-0.9,0.52],[-0.83,0.55],[-0.76,0.25],[-0.7,0.55],[-0.63,0.55],
[-0.59,0.24],[-0.58,0.45],[-0.57,0.06],[-0.56,0.35],[-0.55,0.58],[-0.54,0.15],[-0.53,0.28],[-0.52,0.5],[-0.51,0.1],[-0.5,0.4],[-0.5,0.62],[-0.49,0.2],[-0.48,0.05],[-0.48,0.33],[-0.47,0.52],[-0.46,0.14],[-0.46,0.66],[-0.45,0.26],[-0.44,0.42],[-0.44,0.08],[-0.43,0.58],[-0.42,0.18],[-0.42,0.35],[-0.41,0.7],[-0.4,0.04],[-0.4,0.5],[-0.39,0.25],[-0.39,0.62],[-0.38,0.12],[-0.38,0.4],[-0.37,0.55],[-0.36,0.2],[-0.36,0.72],[-0.35,0.32],[-0.35,0.06],[-0.34,0.48],[-0.34,0.65],[-0.33,0.15],[-0.33,0.38],[-0.32,0.56],[-0.32,0.26],[-0.31,0.75],[-0.31,0.08],[-0.3,0.45],[-0.3,0.62],[-0.3,0.18],[-0.55,0.3],[-0.52,0.02],[-0.47,0.4],[-0.43,0.28],[-0.37,0.02],[-0.34,0.28],[-0.56,0.6],
[-0.29,0.32],[-0.29,0.85],[-0.28,0.1],[-0.28,0.55],[-0.27,0.7],[-0.27,0.22],[-0.26,0.42],[-0.26,0.9],[-0.25,0.05],[-0.25,0.6],[-0.24,0.3],[-0.24,0.78],[-0.23,0.15],[-0.23,0.5],[-0.22,0.95],[-0.22,0.38],[-0.21,0.68],[-0.21,0.08],[-0.2,0.25],[-0.2,0.55],[-0.2,0.82],[-0.19,0.4],[-0.19,1.0],[-0.18,0.12],[-0.18,0.65],[-0.18,0.88],[-0.17,0.3],[-0.17,0.5],[-0.17,1.05],[-0.16,0.2],[-0.16,0.75],[-0.16,0.95],[-0.15,0.42],[-0.15,0.6],[-0.15,0.05],[-0.15,1.12],[-0.28,0.4],[-0.26,0.62],[-0.24,0.02],[-0.23,0.85],[-0.21,0.45],[-0.19,0.2],[-0.17,0.8],
[-0.145,0.3],[-0.14,0.85],[-0.14,1.2],[-0.14,0.1],[-0.135,0.55],[-0.13,1.0],[-0.13,0.7],[-0.13,0.2],[-0.125,1.35],[-0.12,0.45],[-0.12,0.9],[-0.12,0.05],[-0.115,1.15],[-0.11,0.62],[-0.11,1.45],[-0.11,0.3],[-0.105,0.8],[-0.1,1.05],[-0.1,1.6],[-0.1,0.15],[-0.1,0.5],[-0.095,1.3],[-0.09,0.72],[-0.09,0.35],[-0.09,1.75],[-0.085,1.0],[-0.085,0.08],[-0.08,0.55],[-0.08,1.45],[-0.08,1.9],[-0.08,0.25],[-0.13,1.5],[-0.115,0.4],[-0.1,0.9],[-0.095,0.6],[-0.085,1.25],
[-0.075,0.4],[-0.075,1.2],[-0.075,2.2],[-0.07,0.1],[-0.07,0.8],[-0.07,1.6],[-0.07,2.5],[-0.065,0.55],[-0.065,1.35],[-0.065,2.0],[-0.065,3.0],[-0.06,0.25],[-0.06,1.0],[-0.06,1.8],[-0.06,2.4],[-0.055,0.7],[-0.055,1.45],[-0.055,2.8],[-0.055,3.4],[-0.05,0.15],[-0.05,1.15],[-0.05,2.0],[-0.05,3.0],[-0.045,0.45],[-0.045,1.7],[-0.045,2.5],[-0.045,3.6],[-0.045,4.2],[-0.04,0.9],[-0.04,1.3],[-0.04,2.2],[-0.04,3.2],[-0.04,5.4],[-0.035,0.3],[-0.035,1.9],[-0.035,2.7],[-0.035,4.0],[-0.035,4.6],[-0.03,0.6],[-0.03,1.5],[-0.03,2.4],[-0.03,3.4],[-0.03,5.0],[-0.03,5.8],[-0.025,1.1],[-0.025,2.0],[-0.025,3.0],[-0.025,4.3],[-0.025,5.4],[-0.02,0.2],[-0.02,0.8],[-0.02,1.7],[-0.02,2.6],[-0.02,3.7],[-0.02,4.8],[-0.02,6.0],[-0.015,1.3],[-0.015,2.2],[-0.015,3.2],[-0.015,4.1],[-0.015,5.2],[-0.015,5.7],[-0.01,0.5],[-0.01,1.0],[-0.01,1.9],[-0.01,2.9],[-0.01,3.5],[-0.01,4.5],[-0.01,5.0],[-0.005,0.3],[-0.005,1.5],[-0.005,2.4],[-0.005,3.9],[-0.005,4.7],[-0.005,5.5],[-0.003,0.9],[-0.003,2.7],[-0.003,3.3],[-0.003,4.2],[-0.003,5.9],[-0.06,0.05],[-0.04,0.05],[-0.015,0.6],[-0.008,1.25],[-0.008,2.1]
];
const temporaryBotExtra = [
[-0.495,0.3],[-0.485,0.55],[-0.475,0.15],[-0.465,0.45],[-0.455,0.6],[-0.445,0.22],[-0.435,0.5],[-0.425,0.1],[-0.415,0.42],[-0.405,0.62],[-0.395,0.15],[-0.385,0.5],[-0.375,0.3],[-0.365,0.65],[-0.355,0.12],[-0.345,0.55],[-0.335,0.25],[-0.325,0.7],[-0.315,0.4],[-0.305,0.15],[-0.295,0.6],[-0.285,0.25],[-0.275,0.48],[-0.265,0.75],[-0.255,0.3],[-0.245,0.55],[-0.235,0.08],[-0.225,0.7],[-0.215,0.25],[-0.205,0.9],[-0.205,0.4],
[-0.195,0.6],[-0.185,0.3],[-0.185,0.95],[-0.175,0.7],[-0.175,0.15],[-0.165,0.45],[-0.165,1.0],[-0.155,0.25],[-0.155,0.85],[-0.145,0.6],[-0.145,1.1],[-0.135,0.35],[-0.135,0.9],[-0.125,0.15],[-0.125,0.7],[-0.115,1.25],[-0.115,0.85],[-0.105,0.3],[-0.105,1.4],[-0.095,0.95],[-0.095,0.15],[-0.09,1.2],[-0.085,0.6],[-0.085,1.6],[-0.082,0.4],[-0.082,1.1],
[-0.078,1.0],[-0.077,1.7],[-0.073,0.6],[-0.072,1.4],[-0.068,2.2],[-0.067,0.3],[-0.063,1.1],[-0.062,2.7],[-0.058,0.5],[-0.057,1.6],[-0.053,2.3],[-0.052,0.9],[-0.048,1.4],[-0.047,2.7],[-0.043,0.2],[-0.042,1.9],[-0.042,3.0],[-0.038,1.1],[-0.037,2.5],[-0.037,3.6],[-0.033,0.8],[-0.032,2.0],[-0.032,4.3],[-0.028,1.3],[-0.028,2.8],[-0.027,3.9],[-0.027,5.1],[-0.023,0.5],[-0.023,1.9],[-0.022,3.3],[-0.022,4.5],[-0.022,5.7],[-0.018,1.1],[-0.018,2.3],[-0.017,3.0],[-0.017,4.4],[-0.017,5.0],[-0.013,0.8],[-0.013,1.6],[-0.012,2.6],[-0.012,3.8],[-0.012,5.4],[-0.008,0.2],[-0.008,3.1],[-0.007,4.0],[-0.007,5.8],[-0.004,1.2],[-0.004,1.9],[-0.004,3.6],[-0.004,4.9],[-0.002,0.6],[-0.002,2.2],[-0.002,3.0],[-0.002,5.2],
[-1.42,0.05],[-1.38,0.27],[-1.31,0.1],[-1.23,0.05],[-1.15,0.2],[-1.06,0.08],[-0.97,0.45],[-0.92,0.05],[-0.85,0.42],[-0.78,0.02],[-0.72,0.12],[-0.66,0.4],[-0.6,0.35],[-0.58,0.2],[-0.54,0.45],[-0.51,0.3]
];

// ================= RENDERING =================
const BLUE = 'rgb(58,156,245)';
const RED = 'rgb(255,0,0)';
const TICKFONT = {family:'"DejaVu Sans"', size:17, weight:'bold'};
const pts = a => a.map(p => ({x:p[0], y:p[1]}));
const fmt = v => (v < 0 ? '\u2212' + String(Math.abs(v)) : String(v));

function rich(ctx, parts, x, y, align){
  const F = s => 'bold ' + s + 'px "DejaVu Serif"';
  const size = p => (p[1] ? 13 : 19);
  try { ctx.letterSpacing = '0.5px'; } catch (e) {}
  let w = 0, pend = 0;
  parts.forEach(p => { ctx.font = F(size(p)); const m = ctx.measureText(p[0]).width; if (p[2]) { pend = m; } else { w += Math.max(m, pend); pend = 0; } });
  let cx = align === 'center' ? x - w / 2 : x; pend = 0;
  parts.forEach(p => {
    ctx.font = F(size(p));
    const dy = p[1] === 1 ? 5 : (p[1] === 2 ? -9 : 0);
    ctx.fillText(p[0], cx, y + dy);
    const m = ctx.measureText(p[0]).width;
    if (p[2]) { pend = m; } else { cx += Math.max(m, pend); pend = 0; }
  });
}

function makeFrame(xMaj, xMin, yMaj, yMin){
  return {id:'frame', afterDatasetsDraw(chart){
    const {ctx, chartArea:a, scales:{x, y}} = chart;
    ctx.save(); ctx.strokeStyle = '#000'; ctx.lineWidth = 2;
    ctx.beginPath();
    const vt = (v, len) => { const p = x.getPixelForValue(v); ctx.moveTo(p, a.bottom); ctx.lineTo(p, a.bottom - len); ctx.moveTo(p, a.top); ctx.lineTo(p, a.top + len); };
    const ht = (v, len) => { const p = y.getPixelForValue(v); ctx.moveTo(a.left, p); ctx.lineTo(a.left + len, p); ctx.moveTo(a.right, p); ctx.lineTo(a.right - len, p); };
    xMaj.forEach(v => vt(v, 13)); xMin.forEach(v => vt(v, 7));
    yMaj.forEach(v => ht(v, 13)); yMin.forEach(v => ht(v, 7));
    ctx.stroke();
    ctx.strokeRect(a.left, a.top, a.right - a.left, a.bottom - a.top);
    ctx.restore();
  }};
}

function axes(xmin, xmax, ymin, ymax, xt, yt, xh, yw, xpad){
  return {
    x:{type:'linear', min:xmin, max:xmax, grid:{display:false, drawTicks:false}, border:{display:false},
       afterBuildTicks: s => { s.ticks = xt.map(v => ({value:v})); },
       afterFit: s => { s.height = xh; s.paddingLeft = 0; s.paddingRight = 0; },
       ticks:{font:TICKFONT, color:'#000', padding:xpad, maxRotation:0, autoSkip:false, callback: v => fmt(v)}},
    y:{type:'linear', min:ymin, max:ymax, grid:{display:false, drawTicks:false}, border:{display:false},
       afterBuildTicks: s => { s.ticks = yt.map(v => ({value:v})); },
       afterFit: s => { s.width = yw; s.paddingTop = 0; s.paddingBottom = 0; },
       ticks:{font:TICKFONT, color:'#000', padding:12, autoSkip:false, callback: v => fmt(v)}}
  };
}

const scatterDs = (d, c, o) => ({data:pts(d), backgroundColor:c, borderColor:c, borderWidth:0, pointRadius:2.4, pointHoverRadius:2.4, order:o});
const lineDs = (d, w, dash) => ({data:pts(d), showLine:true, borderColor:'#000', borderWidth:w, borderDash:dash, pointRadius:0, pointHoverRadius:0, fill:false, tension:0.2, order:0});

const annotTop = {id:'annotTop', afterDraw(chart){
  const ctx = chart.ctx; ctx.save();
  ctx.fillStyle = '#000'; ctx.strokeStyle = '#000'; ctx.textBaseline = 'alphabetic'; ctx.textAlign = 'left';
  rich(ctx, [['galaxy centre', 0]], 88, 195);
  ctx.lineWidth = 2; ctx.beginPath();
  ctx.moveTo(177, 210); ctx.lineTo(85, 210);
  ctx.moveTo(97, 204); ctx.lineTo(84, 210); ctx.lineTo(97, 216); ctx.stroke();
  ctx.fillStyle = BLUE; ctx.beginPath(); ctx.arc(133, 439, 4, 0, 2 * Math.PI); ctx.fill();
  ctx.fillStyle = RED; ctx.beginPath(); ctx.arc(133, 494, 4, 0, 2 * Math.PI); ctx.fill();
  ctx.fillStyle = '#000';
  rich(ctx, [['temporary', 0]], 146, 442);
  rich(ctx, [['permanent', 0]], 146, 497);
  ctx.lineWidth = 2.5; ctx.setLineDash([3, 3]); ctx.beginPath(); ctx.moveTo(463, 440); ctx.lineTo(517, 440); ctx.stroke();
  ctx.setLineDash([]); ctx.beginPath(); ctx.moveTo(463, 495); ctx.lineTo(517, 495); ctx.stroke();
  rich(ctx, [['E=0', 0]], 529, 442);
  rich(ctx, [['E', 0], ['rot', 1], ['=0', 0]], 529, 497);
  rich(ctx, [["x'/r", 0], ['\u03b5', 1]], 352, 600, 'center');
  ctx.translate(19, 277); ctx.rotate(-Math.PI / 2);
  rich(ctx, [['v', 0], ['x', 1, true], ["'", 2], ['/\u03c3', 0]], 0, 0, 'center');
  ctx.restore();
}};

const annotBot = {id:'annotBot', afterDraw(chart){
  const ctx = chart.ctx; ctx.save();
  ctx.fillStyle = '#000'; ctx.strokeStyle = '#000'; ctx.textBaseline = 'alphabetic'; ctx.textAlign = 'left';
  ctx.lineWidth = 3; ctx.beginPath(); ctx.moveTo(123, 60); ctx.lineTo(210, 60); ctx.stroke();
  rich(ctx, [['circular orbits', 0]], 222, 62);
  rich(ctx, [['E/K', 0]], 352, 377, 'center');
  ctx.translate(38, 177); ctx.rotate(-Math.PI / 2);
  rich(ctx, [['L/L', 0], ['0', 1]], 0, 0, 'center');
  ctx.restore();
}};

new Chart(document.getElementById('top'), {
  type:'scatter',
  data:{datasets:[
    lineDs(eRotLeft, 3, []), lineDs(eRotRight, 3, []),
    lineDs(eZeroUL, 2.5, [7, 5]), lineDs(eZeroUR, 2.5, [7, 5]), lineDs(eZeroLL, 2.5, [7, 5]), lineDs(eZeroLR, 2.5, [7, 5]),
    scatterDs(permanentTop.concat(permanentTopExtra), RED, 1),
    scatterDs(temporaryTop.concat(temporaryTopExtra), BLUE, 2)
  ]},
  options:{responsive:false, animation:false, events:[],
    layout:{padding:{left:0, right:5, top:2, bottom:0}},
    plugins:{legend:{display:false}, tooltip:{enabled:false}},
    scales:axes(-15, 15, -3, 3, topXTicks, topYTicks, 60, 78, 10)},
  plugins:[makeFrame(topXTicks, topXMinor, topYTicks, topYMinor), annotTop]
});

new Chart(document.getElementById('bot'), {
  type:'scatter',
  data:{datasets:[
    lineDs(circularOrbits, 4, []),
    scatterDs(permanentBot.concat(permanentBotExtra), RED, 1),
    scatterDs(temporaryBot.concat(temporaryBotExtra), BLUE, 2)
  ]},
  options:{responsive:false, animation:false, events:[],
    layout:{padding:{left:0, right:5, top:31, bottom:0}},
    plugins:{legend:{display:false}, tooltip:{enabled:false}},
    scales:axes(-1.5, 0, 0, 6, botXTicks, botYTicks, 64, 78, 12)},
  plugins:[makeFrame(botXTicks, botXMinor, botYTicks, botYMinor), annotBot]
});
</script>
</body></html>
